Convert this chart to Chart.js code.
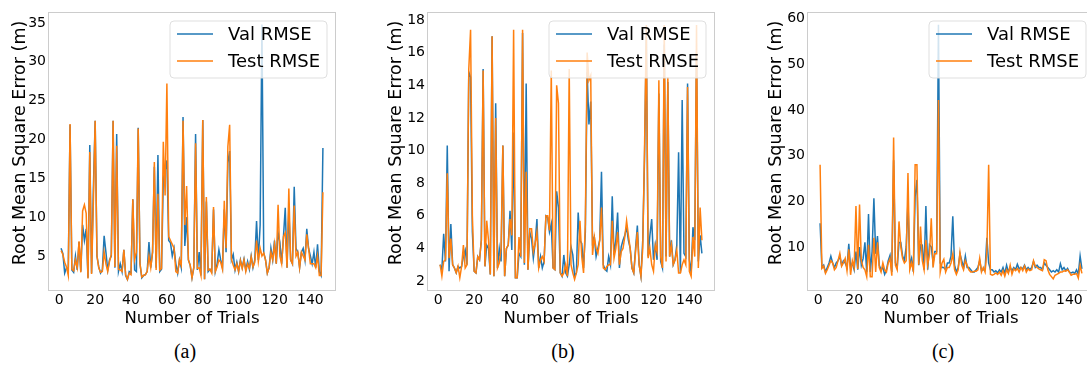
<!DOCTYPE html>
<html>
<head>
<meta charset="utf-8">
<script src="https://cdn.jsdelivr.net/npm/chart.js@4.4.1/dist/chart.umd.min.js"></script>
<style>
    html, body { margin: 0; padding: 0; background: #fff; }
    body { width: 1087px; height: 375px; position: relative; overflow: hidden; }
    canvas { position: absolute; top: 0; }
    .caption {
        position: absolute; top: 340px; width: 60px; margin-left: -30px;
        text-align: center; font-family: "Liberation Serif", serif; font-size: 20px; color: #000;
    }
</style>
</head>
<body>
<canvas id="chartA" width="345" height="330" style="left:0px"></canvas>
<canvas id="chartB" width="345" height="330" style="left:379px"></canvas>
<canvas id="chartC" width="345" height="330" style="left:759px"></canvas>
<div class="caption" style="left:185px">(a)</div>
<div class="caption" style="left:563px">(b)</div>
<div class="caption" style="left:943px">(c)</div>

<script>
// Trial numbers 1..147 are the x values of every series
const seriesLabels = ["Val RMSE", "Test RMSE"];
const xTicks = [0, 20, 40, 60, 80, 100, 120, 140];

// (a)
const valA = [
    6.0, 5.3, 2.8, 3.5, 3.3, 21.9, 3.2, 2.9, 5.0, 3.2,
    6.8, 3.0, 9.0, 7.0, 8.5, 2.2, 19.3, 2.8, 13.7, 22.4,
    5.0, 3.6, 2.8, 3.2, 7.6, 5.5, 3.2, 4.5, 5.0, 22.4,
    3.5, 20.7, 3.0, 4.0, 3.0, 5.8, 2.5, 2.0, 3.0, 2.8,
    12.3, 3.2, 3.0, 21.5, 4.0, 2.2, 2.5, 2.6, 3.0, 6.8,
    3.5, 5.5, 16.5, 3.5, 18.0, 3.0, 3.3, 15.0, 16.0, 17.3,
    7.0, 6.7, 5.0, 6.0, 4.0, 2.8, 4.5, 3.5, 22.9, 6.3,
    10.0, 4.5, 3.8, 2.2, 3.5, 20.7, 3.2, 5.5, 2.5, 22.5,
    2.0, 12.0, 3.0, 3.3, 3.0, 11.0, 3.0, 4.0, 5.8, 4.5,
    3.5, 11.0, 5.5, 17.0, 18.5, 4.5, 5.2, 3.2, 4.2, 3.0,
    4.5, 3.5, 4.6, 3.2, 4.3, 3.3, 5.0, 3.5, 4.5, 9.5,
    4.5, 9.0, 34.8, 5.4, 4.5, 2.8, 3.5, 6.0, 4.5, 7.0,
    4.0, 8.0, 6.8, 4.0, 7.5, 11.2, 3.5, 11.0, 4.5, 4.0,
    13.9, 6.0, 5.5, 3.5, 5.5, 6.0, 4.5, 8.5, 6.0, 5.0,
    4.0, 5.5, 3.5, 6.5, 3.0, 2.5, 18.9
];
const testA = [
    5.7, 5.2, 4.2, 3.6, 2.5, 22.0, 3.3, 3.1, 4.5, 3.5,
    6.9, 2.9, 10.8, 11.6, 10.5, 2.1, 18.4, 2.7, 12.0, 22.4,
    5.0, 3.5, 2.9, 3.0, 5.5, 4.0, 3.0, 4.3, 5.2, 22.4,
    3.6, 19.2, 3.3, 3.2, 3.0, 5.8, 2.6, 2.0, 2.8, 2.6,
    12.3, 4.5, 5.5, 21.4, 4.0, 2.3, 2.5, 2.6, 3.0, 5.0,
    3.5, 5.5, 17.1, 3.2, 13.0, 3.2, 3.4, 19.7, 12.8, 27.2,
    7.5, 7.0, 6.5, 6.0, 3.0, 2.8, 4.5, 3.8, 22.4, 9.0,
    14.0, 4.5, 3.8, 2.2, 3.5, 19.5, 3.4, 3.5, 2.5, 22.5,
    2.0, 12.6, 3.2, 3.3, 2.8, 11.3, 3.0, 3.6, 4.5, 4.2,
    3.3, 12.1, 6.0, 19.1, 21.9, 4.6, 3.8, 3.2, 4.0, 3.0,
    4.4, 3.4, 4.5, 3.0, 4.0, 3.4, 4.9, 3.6, 4.2, 7.0,
    4.3, 6.0, 5.0, 5.4, 4.5, 2.8, 3.5, 5.5, 4.5, 6.5,
    4.0, 11.6, 5.0, 4.0, 7.5, 8.0, 3.5, 13.7, 4.5, 4.0,
    11.5, 5.0, 5.5, 3.5, 5.5, 5.0, 4.5, 7.8, 6.0, 4.0,
    4.0, 4.0, 3.5, 5.0, 2.5, 2.5, 13.2
];
const yTicksA = [5, 10, 15, 20, 25, 30, 35];

// (b)
const valB = [
    3.0, 2.7, 4.9, 3.2, 10.3, 2.6, 5.5, 3.0, 2.8, 2.5,
    2.9, 2.8, 2.9, 3.5, 3.9, 3.0, 14.8, 14.5, 5.0, 2.6,
    2.5, 3.5, 3.3, 4.5, 15.0, 2.9, 4.2, 4.0, 2.4, 17.0,
    2.3, 12.9, 2.8, 4.0, 3.2, 10.3, 2.3, 4.0, 4.2, 6.3,
    3.9, 11.1, 2.2, 2.2, 3.7, 3.5, 17.2, 3.0, 14.1, 2.7,
    5.0, 4.6, 3.4, 4.3, 5.8, 2.8, 3.5, 2.8, 3.2, 6.0,
    5.9, 5.0, 5.5, 2.8, 2.7, 7.5, 6.5, 2.5, 2.3, 3.6,
    2.5, 2.3, 3.0, 4.1, 3.6, 2.3, 2.5, 6.2, 4.5, 4.3,
    2.8, 5.0, 14.8, 11.6, 13.0, 4.4, 4.7, 3.5, 4.0, 4.5,
    8.7, 3.0, 2.7, 2.6, 3.5, 3.0, 7.2, 3.6, 4.5, 6.2,
    2.8, 4.1, 4.5, 4.8, 5.3, 4.5, 4.0, 2.8, 2.5, 4.0,
    5.4, 3.0, 2.3, 4.5, 9.5, 17.0, 3.5, 4.8, 5.8, 3.3,
    4.2, 3.3, 13.5, 3.2, 2.8, 16.5, 3.5, 14.2, 3.5, 4.5,
    3.0, 3.3, 4.2, 9.9, 2.5, 13.1, 3.7, 3.5, 14.1, 3.3,
    2.5, 5.3, 4.5, 16.0, 3.2, 4.8, 3.7
];
const testB = [
    3.0, 2.3, 3.2, 3.3, 8.6, 3.4, 4.6, 3.0, 2.8, 2.5,
    2.9, 2.2, 2.9, 4.2, 2.8, 3.0, 15.0, 17.4, 6.0, 2.6,
    2.5, 3.5, 3.3, 4.5, 14.9, 2.9, 5.7, 4.5, 2.4, 17.0,
    2.3, 12.0, 2.8, 3.1, 4.0, 10.3, 2.3, 4.0, 4.2, 5.8,
    4.8, 17.4, 2.2, 2.2, 4.7, 3.5, 17.4, 3.1, 8.7, 2.7,
    5.2, 5.2, 3.8, 4.3, 5.0, 2.8, 3.3, 3.5, 3.2, 6.0,
    6.0, 5.1, 14.9, 2.8, 2.7, 14.0, 12.9, 2.5, 2.3, 2.5,
    3.0, 2.3, 15.0, 3.0, 2.5, 2.1, 2.5, 3.0, 5.7, 3.5,
    2.5, 5.5, 16.0, 14.3, 14.6, 3.6, 4.7, 4.0, 3.7, 4.5,
    6.5, 2.8, 2.7, 2.9, 3.0, 3.0, 5.7, 3.4, 4.0, 5.0,
    3.0, 3.8, 4.0, 4.7, 5.7, 4.8, 4.0, 2.8, 2.5, 3.8,
    5.0, 3.0, 2.3, 4.0, 10.1, 17.7, 3.4, 4.0, 3.0, 2.6,
    4.2, 3.8, 14.3, 3.5, 2.8, 17.7, 3.2, 14.5, 3.5, 4.2,
    3.0, 3.3, 3.9, 2.5, 2.5, 3.0, 3.3, 3.0, 13.9, 2.6,
    2.3, 4.7, 3.5, 17.7, 2.8, 6.5, 4.5
];
const yTicksB = [2, 4, 6, 8, 10, 12, 14, 16, 18];

// (c)
const valC = [
    15.2, 5.5, 6.0, 4.5, 5.5, 6.5, 8.0, 6.5, 5.5, 6.5,
    7.0, 8.0, 6.0, 7.0, 6.5, 5.5, 10.7, 5.5, 6.5, 5.0,
    9.0, 5.0, 10.0, 6.0, 7.5, 11.0, 4.5, 17.2, 4.5, 9.0,
    20.7, 8.5, 12.4, 6.0, 5.0, 5.5, 4.0, 5.0, 7.0, 8.2,
    4.5, 29.0, 6.5, 5.5, 11.0, 11.0, 8.0, 7.0, 10.0, 20.0,
    6.0, 7.5, 4.6, 21.0, 24.7, 6.0, 10.5, 10.4, 5.0, 19.0,
    5.0, 10.5, 10.0, 6.5, 9.0, 9.0, 58.7, 6.5, 5.5, 5.5,
    5.0, 6.5, 6.5, 8.0, 16.7, 6.0, 4.5, 5.5, 8.5, 7.0,
    5.5, 8.0, 5.5, 5.5, 5.0, 4.5, 4.5, 5.0, 5.5, 7.0,
    4.8, 5.0, 5.0, 12.0, 6.5, 5.0, 5.0, 4.5, 4.8, 4.3,
    5.0, 4.5, 5.5, 4.2, 6.0, 4.5, 5.5, 4.8, 5.5, 5.0,
    6.2, 5.2, 5.5, 5.2, 6.0, 5.0, 5.5, 5.0, 5.5, 6.8,
    5.5, 6.0, 5.5, 5.5, 5.0, 6.5, 6.0, 5.5, 5.0, 4.5,
    4.8, 4.5, 5.0, 4.5, 6.3, 5.0, 5.5, 4.8, 5.3, 4.5,
    4.3, 4.5, 4.2, 5.0, 4.0, 8.0, 5.2
];
const testC = [
    28.0, 5.3, 5.8, 4.2, 5.0, 6.0, 7.0, 6.5, 5.0, 5.5,
    7.0, 8.6, 5.8, 6.5, 7.5, 4.8, 9.5, 3.9, 7.0, 5.5,
    19.0, 5.2, 19.3, 7.0, 5.5, 5.0, 3.5, 10.5, 3.5, 3.5,
    12.0, 4.5, 11.0, 5.5, 4.5, 6.5, 5.0, 4.5, 6.5, 7.5,
    3.7, 34.0, 6.0, 5.0, 15.6, 10.0, 7.5, 6.5, 7.0, 26.2,
    5.0, 6.5, 4.8, 28.0, 28.0, 6.1, 14.5, 7.0, 5.0, 11.5,
    6.0, 8.5, 16.3, 5.5, 8.5, 8.5, 42.2, 4.5, 6.5, 7.3,
    4.5, 5.5, 5.5, 6.5, 8.5, 5.0, 4.0, 5.0, 8.8, 6.0,
    5.0, 7.0, 6.0, 5.0, 4.5, 4.5, 4.7, 4.7, 5.0, 7.5,
    4.5, 5.5, 4.5, 9.0, 28.0, 4.0, 3.8, 4.0, 4.3, 4.0,
    4.5, 3.8, 4.8, 3.6, 5.0, 4.2, 6.0, 4.0, 5.2, 4.8,
    5.3, 4.5, 5.5, 4.8, 5.8, 4.5, 5.2, 4.8, 5.0, 7.0,
    5.8, 5.5, 5.2, 5.0, 4.8, 7.2, 7.0, 5.0, 4.0, 3.5,
    3.0, 3.8, 4.0, 4.2, 4.5, 4.5, 4.8, 4.7, 5.0, 4.5,
    3.8, 4.0, 4.0, 4.2, 3.2, 6.0, 4.2
];
const yTicksC = [10, 20, 30, 40, 50, 60];

const BLUE = "#1f77b4";
const ORANGE = "#ff7f0e";
const FONT = '"DejaVu Sans", sans-serif';

// Frame round the plot area, like the matplotlib spines
const frameBox = {
    id: "frameBox",
    afterDraw(chart) {
        const a = chart.chartArea;
        const ctx = chart.ctx;
        ctx.save();
        ctx.strokeStyle = "#cccccc";
        ctx.lineWidth = 1;
        ctx.strokeRect(Math.round(a.left) + 0.5, Math.round(a.top) + 0.5,
            Math.round(a.right - a.left) - 1, Math.round(a.bottom - a.top) - 1);
        ctx.restore();
    }
};

// Rotated y axis title, placed a bit above the middle of the plot as in the figure
const yTitle = {
    id: "yTitle",
    afterDraw(chart, args, opts) {
        const a = chart.chartArea;
        const ctx = chart.ctx;
        ctx.save();
        ctx.translate(a.left - opts.gap, 143);
        ctx.rotate(-Math.PI / 2);
        ctx.font = "17.5px " + FONT;
        ctx.fillStyle = "#000";
        ctx.textAlign = "center";
        ctx.textBaseline = "middle";
        ctx.fillText(opts.text, 0, 0);
        ctx.restore();
    }
};

// Legend box in the upper right corner of the plot area
const legendBox = {
    id: "legendBox",
    afterDraw(chart) {
        const a = chart.chartArea;
        const ctx = chart.ctx;
        const w = 157, h = 57, r = 4;
        const x = a.right - 9 - w;
        const y = a.top + 9;
        ctx.save();
        ctx.beginPath();
        ctx.moveTo(x + r, y);
        ctx.arcTo(x + w, y, x + w, y + h, r);
        ctx.arcTo(x + w, y + h, x, y + h, r);
        ctx.arcTo(x, y + h, x, y, r);
        ctx.arcTo(x, y, x + w, y, r);
        ctx.closePath();
        ctx.fillStyle = "rgba(255,255,255,0.8)";
        ctx.fill();
        ctx.strokeStyle = "rgba(220,220,220,0.9)";
        ctx.lineWidth = 1;
        ctx.stroke();

        chart.data.datasets.forEach((ds, i) => {
            const ly = y + 13 + i * 27;
            ctx.beginPath();
            ctx.moveTo(x + 7, ly);
            ctx.lineTo(x + 43, ly);
            ctx.strokeStyle = ds.borderColor;
            ctx.lineWidth = 1.5;
            ctx.stroke();
            ctx.fillStyle = "#000";
            ctx.font = "18px " + FONT;
            ctx.textBaseline = "middle";
            ctx.fillText(ds.label, x + 58, ly + 1);
        });
        ctx.restore();
    }
};

function toPoints(values) {
    return values.map((v, i) => ({ x: i + 1, y: v }));
}

function makeChart(id, val, test, yMin, yMax, yTicks, titleGap) {
    const ctx = document.getElementById(id).getContext("2d");
    return new Chart(ctx, {
        type: "line",
        data: {
            datasets: [
                { label: seriesLabels[0], data: toPoints(val), borderColor: BLUE, borderWidth: 1.5, pointRadius: 0, order: 2 },
                { label: seriesLabels[1], data: toPoints(test), borderColor: ORANGE, borderWidth: 1.5, pointRadius: 0, order: 1 }
            ]
        },
        options: {
            responsive: false,
            animation: false,
            devicePixelRatio: 1,
            layout: { padding: { top: 12, right: 9, left: 0, bottom: 0 } },
            plugins: {
                legend: { display: false },
                tooltip: { enabled: false },
                yTitle: { text: "Root Mean Square Error (m)", gap: titleGap }
            },
            scales: {
                x: {
                    type: "linear",
                    min: -6.3,
                    max: 154.3,
                    grid: { display: false, drawTicks: false },
                    border: { display: false },
                    afterBuildTicks: s => { s.ticks = xTicks.map(v => ({ value: v })); },
                    afterFit: s => { s.height = 39; },
                    ticks: { padding: 1, color: "#000", font: { family: FONT, size: 14 } },
                    title: {
                        display: true, text: "Number of Trials", color: "#000",
                        padding: { top: 0, bottom: 1 }, font: { family: FONT, size: 16.5 }
                    }
                },
                y: {
                    min: yMin,
                    max: yMax,
                    grid: { display: false, drawTicks: false },
                    border: { display: false },
                    afterBuildTicks: s => { s.ticks = yTicks.map(v => ({ value: v })); },
                    afterFit: s => { s.width = 48; },
                    ticks: { padding: 2, color: "#000", font: { family: FONT, size: 14 } }
                }
            }
        },
        plugins: [frameBox, yTitle, legendBox]
    });
}

makeChart("chartA", valA, testA, 0.5, 36.4, yTicksA, 28);
makeChart("chartB", valB, testB, 1.39, 18.49, yTicksB, 31);
makeChart("chartC", valC, testC, 0.35, 61.5, yTicksC, 31);
</script>
</body>
</html>
